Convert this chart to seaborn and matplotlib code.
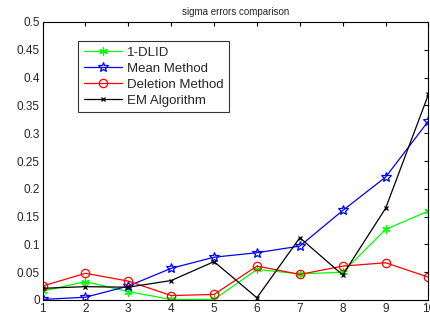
import matplotlib
matplotlib.use("Agg")
import matplotlib.pyplot as plt
import seaborn as sns
import pandas as pd

x = [1, 2, 3, 4, 5, 6, 7, 8, 9, 10]
dlid = [0.016, 0.033, 0.015, 0.001, 0.001, 0.055, 0.047, 0.050, 0.127, 0.160]
mean_method = [0.001, 0.005, 0.025, 0.057, 0.077, 0.085, 0.097, 0.161, 0.221, 0.322]
deletion = [0.025, 0.048, 0.034, 0.008, 0.010, 0.061, 0.046, 0.061, 0.067, 0.041]
em_algo = [0.021, 0.024, 0.023, 0.035, 0.069, 0.004, 0.112, 0.045, 0.165, 0.370]

series = {
    "1-DLID": dlid,
    "Mean Method": mean_method,
    "Deletion Method": deletion,
    "EM Algorithm": em_algo,
}
# colour, marker, marker size
styles = {
    "1-DLID": ("#00ff00", (6, 2, 0), 6),
    "Mean Method": ("#0000ff", "*", 7),
    "Deletion Method": ("#ff0000", "o", 6),
    "EM Algorithm": ("#000000", "x", 3.5),
}

sns.set_style("white")
plt.rcParams["font.family"] = ["Liberation Sans", "DejaVu Sans"]

fig = plt.figure(figsize=(4.3, 3.2), dpi=100)
ax = fig.add_axes([42.5 / 430, 20 / 320, 386 / 430, 278 / 320])

for name, vals in series.items():
    col, mk, ms = styles[name]
    df = pd.DataFrame({"x": x, "y": vals})
    sns.lineplot(data=df, x="x", y="y", ax=ax, color=col, marker=mk,
                 markersize=ms, linewidth=0.9,
                 markerfacecolor="none", markeredgecolor=col, markeredgewidth=0.9,
                 label=name)

ax.set_xlim(1, 10)
ax.set_ylim(0, 0.5)
ax.set_xticks(x)
yt = [i * 0.05 for i in range(11)]
ax.set_yticks(yt)
ax.set_yticklabels(["0"] + [f"{v:g}" for v in yt[1:]])
ax.tick_params(direction="in", length=3, labelsize=8.5, top=True, right=True,
               color="black", pad=2)
ax.set_xlabel("")
ax.set_ylabel("")
for sp in ax.spines.values():
    sp.set_color("black")
    sp.set_linewidth(0.8)
ax.set_title("sigma errors comparison", fontsize=7, pad=5)

leg = ax.legend(loc="upper left", bbox_to_anchor=(0.093, 0.93), fontsize=9.5,
                frameon=True, fancybox=False, edgecolor="black", borderpad=0.4,
                labelspacing=0.28, handlelength=2.9, handletextpad=0.4, borderaxespad=0)
leg.get_frame().set_linewidth(0.8)

fig.savefig("out.png", dpi=100)
